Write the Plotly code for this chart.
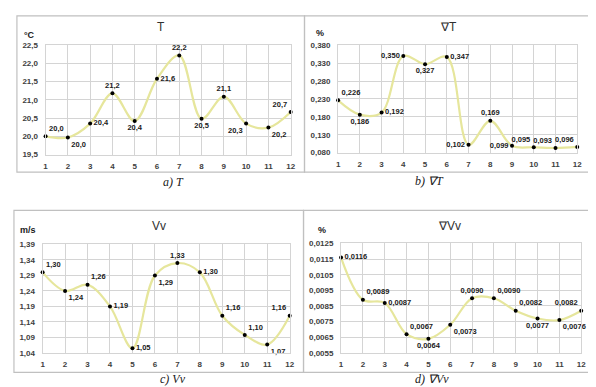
import plotly.graph_objects as go

W, H = 596, 387

months = list(range(1, 13))

T_vals = [20.0, 19.97, 20.35, 21.18, 20.42, 21.58, 22.22, 20.48, 21.09, 20.35, 20.24, 20.67]
T_labels = ["20,0", "20,0", "20,4", "21,2", "20,4", "21,6", "22,2", "20,5", "21,1", "20,3", "20,2", "20,7"]
T_ticks = [19.5, 20.0, 20.5, 21.0, 21.5, 22.0, 22.5]

gT_vals = [0.226, 0.186, 0.192, 0.350, 0.327, 0.347, 0.102, 0.169, 0.099, 0.095, 0.093, 0.096]
gT_labels = ["0,226", "0,186", "0,192", "0,350", "0,327", "0,347", "0,102", "0,169", "0,099", "0,095", "0,093", "0,096"]
gT_ticks = [0.080, 0.130, 0.180, 0.230, 0.280, 0.330, 0.380]

Vv_vals = [1.30, 1.24, 1.26, 1.19, 1.055, 1.29, 1.33, 1.30, 1.16, 1.098, 1.067, 1.16]
Vv_labels = ["1,30", "1,24", "1,26", "1,19", "1,05", "1,29", "1,33", "1,30", "1,16", "1,10", "1,07", "1,16"]
Vv_ticks = [1.04, 1.09, 1.14, 1.19, 1.24, 1.29, 1.34, 1.39]

gV_vals = [0.0116, 0.0089, 0.0087, 0.0067, 0.0064, 0.0073, 0.0090, 0.0090, 0.0082, 0.0077, 0.0076, 0.0082]
gV_labels = ["0,0116", "0,0089", "0,0087", "0,0067", "0,0064", "0,0073", "0,0090", "0,0090", "0,0082", "0,0077", "0,0076", "0,0082"]
gV_ticks = [0.0055, 0.0065, 0.0075, 0.0085, 0.0095, 0.0105, 0.0115, 0.0125]

T_pos = ["top right", "bottom right", "middle right", "top center", "bottom center", "middle right",
         "top center", "bottom center", "top center", "bottom left", "bottom right", "top left"]
gT_pos = ["top right", "bottom center", "middle right", "middle left", "bottom center", "middle right",
          "middle left", "top center", "middle left", "top left", "top left", "top left"]
Vv_pos = ["top right", "bottom right", "top right", "middle right", "middle right", "bottom right",
          "top center", "middle right", "top right", "top right", "bottom right", "top left"]
gV_pos = ["middle right", "top right", "middle right", "top right", "bottom center", "bottom right",
          "top center", "top right", "top right", "bottom center", "bottom right", "top left"]

LINE = "#e6e69c"
GRID = "#d4d4d4"
TXT = "#404040"
FONT = "Liberation Sans"


def px(x):
    return x / W


def py(y):
    return 1 - y / H


panels = [
    dict(vals=T_vals, labels=T_labels, pos=T_pos, ticks=T_ticks, fmt=".1f",
         xd=(36, 284), yd=(34, 146)),
    dict(vals=gT_vals, labels=gT_labels, pos=gT_pos, ticks=gT_ticks, fmt=".3f",
         xd=(332, 574), yd=(34, 144)),
    dict(vals=Vv_vals, labels=Vv_labels, pos=Vv_pos, ticks=Vv_ticks, fmt=".2f",
         xd=(33, 283), yd=(238, 349)),
    dict(vals=gV_vals, labels=gV_labels, pos=gV_pos, ticks=gV_ticks, fmt=".4f",
         xd=(335, 578), yd=(237, 349)),
]

fig = go.Figure()
layout = dict(
    width=W, height=H, margin=dict(l=0, r=0, t=0, b=0),
    paper_bgcolor="white", plot_bgcolor="white", showlegend=False,
    separators=", ",
)

for i, p in enumerate(panels, start=1):
    xa = "x" if i == 1 else f"x{i}"
    ya = "y" if i == 1 else f"y{i}"
    fig.add_trace(go.Scatter(
        x=months, y=p["vals"], xaxis=xa, yaxis=ya,
        mode="lines+markers+text",
        line=dict(color=LINE, width=2.2, shape="spline", smoothing=1.0),
        marker=dict(color="black", size=4),
        text=p["labels"], textposition=p["pos"],
        textfont=dict(family=FONT, size=7.5, color="#202020", weight="bold"),
        cliponaxis=False,
    ))
    layout[f"xaxis{'' if i == 1 else i}"] = dict(
        domain=[px(p["xd"][0]), px(p["xd"][1])], anchor=ya, range=[1, 12],
        tickvals=months, showgrid=True, gridcolor=GRID, gridwidth=1,
        showline=True, linecolor=GRID, mirror=True, zeroline=False,
        ticks="", ticklabelstandoff=4,
        tickfont=dict(family=FONT, size=8, color=TXT, weight="bold"),
    )
    layout[f"yaxis{'' if i == 1 else i}"] = dict(
        domain=[py(p["yd"][1]), py(p["yd"][0])], anchor=xa,
        range=[p["ticks"][0], p["ticks"][-1]], tickvals=p["ticks"], tickformat=p["fmt"],
        showgrid=True, gridcolor=GRID, gridwidth=1,
        showline=True, linecolor=GRID, mirror=True, zeroline=False,
        ticks="", ticklabelstandoff=5,
        tickfont=dict(family=FONT, size=8, color=TXT, weight="bold"),
    )

fig.update_layout(**layout)

frames = [(7, 4, 298, 164), (298, 4, 590, 164), (4, 203, 297, 369), (297, 203, 592, 369)]
for x0, y0, x1, y1 in frames:
    fig.add_shape(type="rect", xref="paper", yref="paper",
                  x0=px(x0), x1=px(x1), y0=py(y1), y1=py(y0),
                  line=dict(color="#c0c0c0", width=1.2), layer="below")

titles = [("T", 153, 15), ("∇T", 444, 15), ("Vv", 151, 219), ("∇Vv", 445, 219)]
for t, x, y in titles:
    fig.add_annotation(text=t, x=px(x), y=py(y), xref="paper", yref="paper",
                       showarrow=False, xanchor="center", yanchor="middle",
                       font=dict(family=FONT, size=12, color="#303030"))

units = [("°C", 20, 24), ("%", 314, 22), ("m/s", 18, 223), ("%", 316, 223)]
for t, x, y in units:
    fig.add_annotation(text=t, x=px(x), y=py(y), xref="paper", yref="paper",
                       showarrow=False, xanchor="center", yanchor="middle",
                       font=dict(family=FONT, size=9, color="#202020", weight="bold"))

captions = [("a) T", 165, 174), ("b) ∇T", 424, 173), ("c) Vv", 165, 376), ("d) ∇Vv", 427, 376)]
for t, x, y in captions:
    fig.add_annotation(text=f"<i>{t}</i>", x=px(x), y=py(y), xref="paper", yref="paper",
                       showarrow=False, xanchor="center", yanchor="middle",
                       font=dict(family="Liberation Serif", size=12, color="#202020"))

fig.write_html("out.html")
